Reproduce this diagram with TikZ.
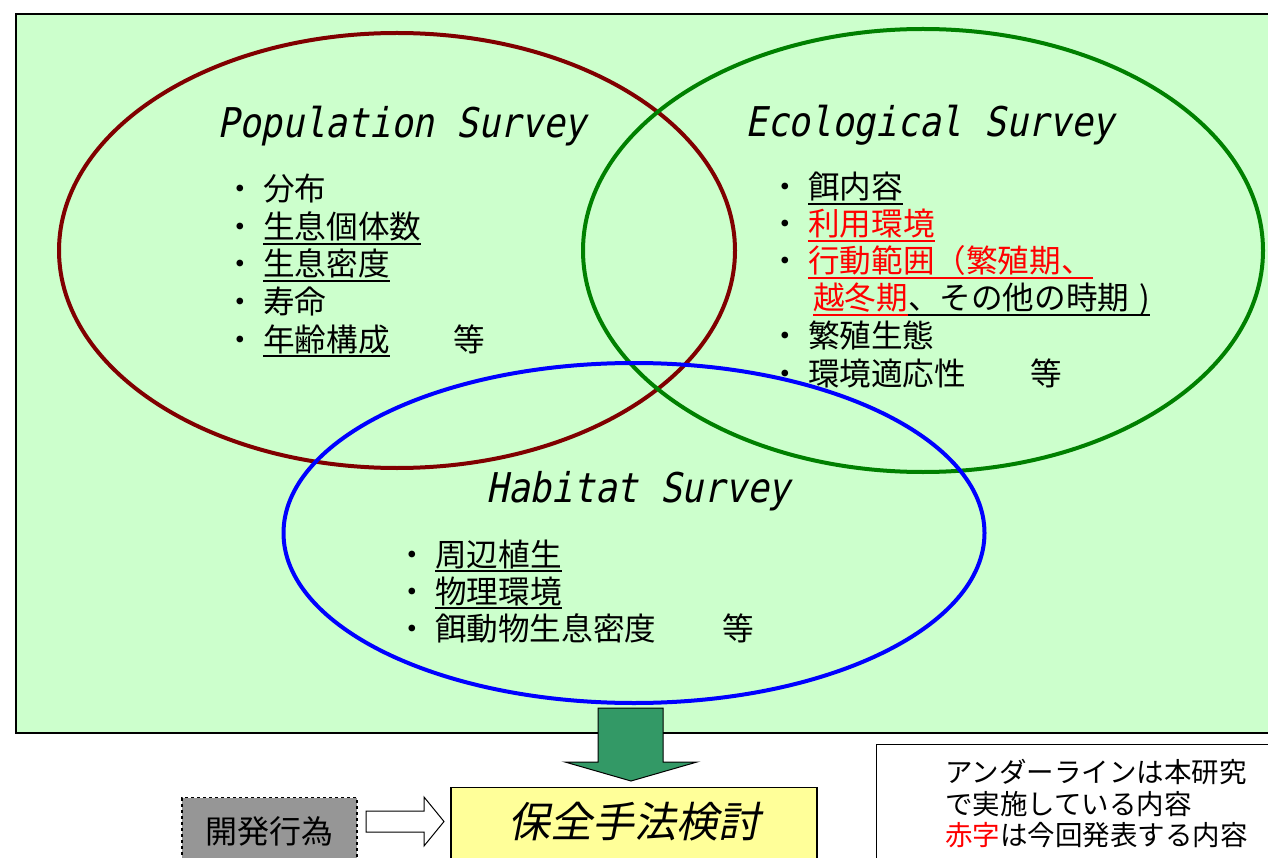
\documentclass[tikz,border=0pt]{standalone}
\usepackage{fontspec}
\usepackage{graphicx}
\newfontfamily\jp{Noto Sans CJK JP}
\newfontfamily\jpit{Noto Sans CJK JP}[FakeSlant=0.2]
\newfontfamily\headfont{DejaVu Sans Mono}[FakeStretch=0.88,FakeSlant=0.2]
\newsavebox\ulbox
\newcommand\ulr[1]{\sbox\ulbox{#1}\rlap{\rule[-6pt]{\wd\ulbox}{2pt}}\usebox\ulbox}
\newcommand\bul{\makebox[46pt][c]{・}}
\definecolor{panelgreen}{HTML}{CCFFCC}
\definecolor{popc}{HTML}{800000}
\definecolor{ecoc}{HTML}{008000}
\definecolor{habc}{HTML}{0000FF}
\definecolor{arrowgreen}{HTML}{339966}
\definecolor{boxyellow}{HTML}{FFFF99}
\definecolor{devgray}{HTML}{969696}
\tikzset{
  listtext/.style={anchor=base west, inner sep=0pt, font=\jp\fontsize{31.6}{36}\selectfont},
  etc/.style={anchor=base, inner sep=0pt, font=\jp\fontsize{31.6}{36}\selectfont},
  head/.style={anchor=base, inner sep=0pt, font=\headfont\fontsize{41}{48}\selectfont},
  ring/.style={line width=4pt},
  legtext/.style={anchor=base west, inner sep=0pt, font=\jp\fontsize{27.5}{32}\selectfont},
}
\begin{document}
\begin{tikzpicture}[x=1pt,y=-1pt]
\useasboundingbox (0,0) rectangle (1268,858);
\clip (0,0) rectangle (1268,858);
\fill[white] (0,0) rectangle (1268,858);
% panel
\draw[fill=panelgreen, line width=2pt] (16,14) rectangle (1300,733);
% ellipses
\draw[ring, popc] (397,250.5) ellipse [x radius=338pt, y radius=217.5pt];
\draw[ring, ecoc] (923,250.5) ellipse [x radius=340pt, y radius=221.5pt];
\draw[ring, habc] (634,533) ellipse [x radius=350.5pt, y radius=170pt];
% headings
\node[head] (pophead) at (402,138) {Population Survey};
\node[head] (ecohead) at (930,137) {Ecological Survey};
\node[head] (habhead) at (638.5,502) {Habitat Survey};
% population list
\node[listtext] (p1) at (217,201) {\bul 分布};
\node[listtext] (p2) at (217,239) {\bul\ulr{生息個体数}};
\node[listtext] (p3) at (217,276) {\bul\ulr{生息密度}};
\node[listtext] (p4) at (217,313) {\bul 寿命};
\node[listtext] (p5) at (217,351) {\bul\ulr{年齢構成}};
\node[etc] (p6) at (469,351) {等};
% ecological list
\node[listtext] (e1) at (762,199) {\bul\ulr{餌内容}};
\node[listtext] (e2) at (762,236) {\bul\textcolor{red}{\ulr{利用環境}}};
\node[listtext] (e3) at (762,273) {\bul\textcolor{red}{\ulr{行動範囲（繁殖期、}}};
\node[listtext] (e4) at (813,310) {\textcolor{red}{\ulr{越冬期}}\ulr{、その他の時期\hspace{10pt})}};
\node[listtext] (e5) at (762,347) {\bul 繁殖生態};
\node[listtext] (e6) at (762,385) {\bul 環境適応性};
\node[etc] (e7) at (1046,385) {等};
% habitat list
\node[listtext] (h1) at (389,566) {\bul\ulr{周辺植生}};
\node[listtext] (h2) at (389,603) {\bul\ulr{物理環境}};
\node[listtext] (h3) at (389,640) {\bul 餌動物生息密度};
\node[etc] (h4) at (738,640) {等};
% green block arrow
\draw[fill=arrowgreen, line width=1pt] (598,708) -- (663,708) -- (663,762) -- (697,762) -- (631,781) -- (565,762) -- (598,762) -- cycle;
% bottom boxes
\node[draw, fill=boxyellow, line width=1.2pt, anchor=north, inner sep=0pt,
      minimum width=366pt, text height=50pt, text depth=80pt,
      font=\jpit\fontsize{42}{48}\selectfont] (method) at (634,787) {保全手法検討};
\node[draw, dashed, fill=devgray, line width=1.2pt, anchor=north, inner sep=0pt,
      minimum width=175pt, text height=46pt, text depth=60pt,
      font=\jp\fontsize{32}{36}\selectfont] (dev) at (269.5,797) {開発行為};
% white block arrow
\draw[fill=white, line width=1pt] (366,811) -- (424,811) -- (424,797) -- (444,821.5) -- (424,846) -- (424,832) -- (366,832) -- cycle;
% legend
\node[draw, fill=white, line width=1.2pt, anchor=north west, minimum width=500pt, minimum height=200pt] (legend) at (876,744) {};
\node[legtext] (l1) at (945,782) {アンダーラインは本研究};
\node[legtext] (l2) at (945,814) {で実施している内容};
\node[legtext] (l3) at (945,845) {\textcolor{red}{赤字}は今回発表する内容};
\end{tikzpicture}
\end{document}
